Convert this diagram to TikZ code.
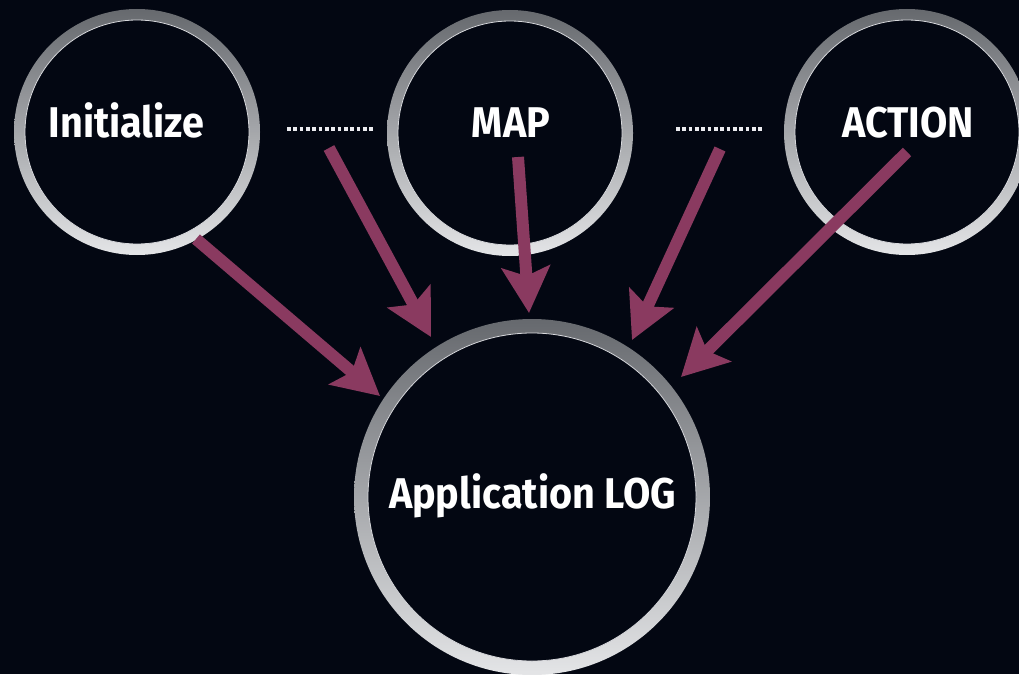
\documentclass[tikz,border=0pt]{standalone}
\usepackage{fontspec}
\newfontfamily\lblfont{Fira Sans}[FakeStretch=0.92]
\usetikzlibrary{arrows.meta}
\definecolor{bg}{RGB}{3,7,18}
\definecolor{ringtop}{RGB}{102,105,110}
\definecolor{ringbot}{RGB}{228,229,231}
\definecolor{hilite}{RGB}{215,216,220}
\definecolor{arr}{RGB}{138,58,96}
\definecolor{dotc}{RGB}{236,236,240}
\begin{document}
\begin{tikzpicture}[x=1pt,y=-1pt,
  ringsmall/.style={circle, minimum size=246pt, inner sep=0pt,
    top color=ringtop, bottom color=ringbot,
    path picture={\fill[bg] (path picture bounding box.center) circle (112pt);
      \draw[hilite, line width=0.8pt] (path picture bounding box.center) circle (112pt);}},
  ringbig/.style={circle, minimum size=356pt, inner sep=0pt,
    top color=ringtop, bottom color=ringbot,
    path picture={\fill[bg] (path picture bounding box.center) circle (164pt);
      \draw[hilite, line width=0.8pt] (path picture bounding box.center) circle (164pt);}},
  lbl/.style={text=white, inner sep=0pt, anchor=base,
    font=\lblfont\bfseries\fontsize{43}{50}\selectfont},
  dots/.style={dotc, line width=4pt, dash pattern=on 3.8pt off 2.52pt},
  flow/.style={arr, line width=12pt,
    -{Stealth[length=46pt, width=48pt, inset=9pt]}}
]
\clip (0,0) rectangle (1019,674);
\fill[bg] (0,0) rectangle (1019,674);

% circles
\node[ringsmall] (init) at (137,132) {};
\node[ringsmall] (map) at (510,133) {};
\node[ringsmall] (action) at (907,132) {};
\node[ringbig] (log) at (532,497) {};

% labels
\node[lbl] (tinit) at (126.5,137) {Initialize};
\node[lbl] (tmap) at (511,137) {MAP};
\node[lbl] (taction) at (908,137) {ACTION};
\node[lbl] (tlog) at (532.5,508) {Application LOG};

% dotted separators
\coordinate (d1a) at (287,129);
\coordinate (d1b) at (373,129);
\coordinate (d2a) at (676,129);
\coordinate (d2b) at (762,129);
\draw[dots] (d1a) -- (d1b);
\draw[dots] (d2a) -- (d2b);

% arrow end points
\coordinate (s1) at (196,239);
\coordinate (e1) at (380,396);
\coordinate (s2) at (329,148);
\coordinate (e2) at (431,337);
\coordinate (s3) at (518,157);
\coordinate (e3) at (529,313);
\coordinate (s4) at (720,149);
\coordinate (e4) at (632,340);
\coordinate (s5) at (907,152);
\coordinate (e5) at (681,377);

\draw[flow] (s1) -- (e1);
\draw[flow] (s2) -- (e2);
\draw[flow] (s3) -- (e3);
\draw[flow] (s4) -- (e4);
\draw[flow] (s5) -- (e5);
\end{tikzpicture}
\end{document}
